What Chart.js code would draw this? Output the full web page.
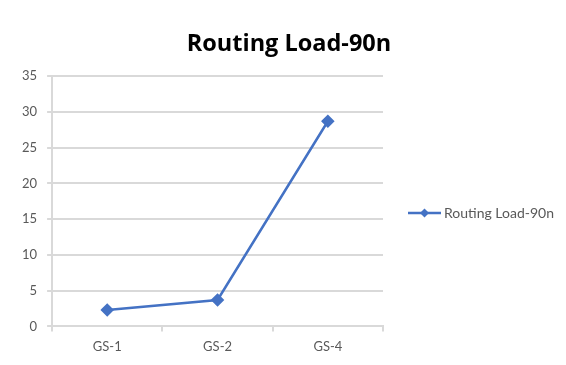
<!DOCTYPE html>
<html>
<head>
<meta charset="utf-8">
<script src="https://cdn.jsdelivr.net/npm/chart.js@4/dist/chart.umd.min.js"></script>
<style>
  html, body { margin: 0; padding: 0; background: #ffffff; }
  #wrap { width: 566px; height: 365px; }
</style>
</head>
<body>
<div id="wrap"><canvas id="chart" width="566" height="365"></canvas></div>
<script>
const categories = ['GS-1', 'GS-2', 'GS-4'];
const routingLoad = [2.3, 3.7, 28.7];
const yTicks = [0, 5, 10, 15, 20, 25, 30, 35];
const seriesName = 'Routing Load-90n';

const lineColor = '#4472c4';
const textColor = '#595959';
const gridColor = '#d9d9d9';
const legendSpace = 183;

// Side legend: a line sample with a diamond, then the series name
const sideLegend = {
  id: 'sideLegend',
  afterDraw(chart) {
    const ctx = chart.ctx;
    const area = chart.chartArea;
    const ds = chart.data.datasets[0];
    const x0 = area.right + 25;
    const y = Math.round((area.top + area.bottom) / 2) + 12;
    ctx.save();
    ctx.strokeStyle = ds.borderColor;
    ctx.lineWidth = 2.5;
    ctx.beginPath(); ctx.moveTo(x0, y); ctx.lineTo(x0 + 33, y); ctx.stroke();
    ctx.fillStyle = ds.borderColor;
    const cx = x0 + 16.5;
    ctx.beginPath();
    ctx.moveTo(cx, y - 4.5); ctx.lineTo(cx + 4.5, y); ctx.lineTo(cx, y + 4.5); ctx.lineTo(cx - 4.5, y);
    ctx.closePath(); ctx.fill();
    ctx.fillStyle = textColor;
    ctx.font = '14px Lato';
    ctx.textAlign = 'left';
    ctx.textBaseline = 'middle';
    ctx.fillText(ds.label, x0 + 36, y);
    ctx.restore();
  }
};

new Chart(document.getElementById('chart'), {
  type: 'line',
  data: {
    labels: categories,
    datasets: [{
      label: seriesName,
      data: routingLoad,
      borderColor: lineColor,
      backgroundColor: lineColor,
      borderWidth: 2.5,
      pointStyle: 'rectRot',
      pointRadius: 5,
      pointHoverRadius: 5,
      tension: 0
    }]
  },
  plugins: [sideLegend],
  options: {
    responsive: false,
    animation: false,
    layout: { padding: { left: 12, right: 0, top: 6, bottom: 2 } },
    plugins: {
      title: {
        display: true,
        text: seriesName,
        color: '#000000',
        font: { family: 'Open Sans', size: 23.5, weight: 'bold' },
        padding: { top: 24, bottom: 18 }
      },
      legend: { display: false },
      tooltip: { enabled: false }
    },
    scales: {
      x: {
        offset: true,
        grid: {
          offset: true,
          drawOnChartArea: false,
          drawTicks: true,
          tickLength: 5,
          color: gridColor,
          lineWidth: 2
        },
        border: { color: gridColor, width: 2 },
        ticks: { color: textColor, font: { family: 'Lato', size: 13 }, padding: 8 }
      },
      y: {
        min: 0,
        max: 35,
        afterBuildTicks: (axis) => { axis.ticks = yTicks.map(v => ({ value: v })); },
        grid: { color: gridColor, lineWidth: 2, tickLength: 5 },
        border: { color: gridColor, width: 2 },
        ticks: { color: textColor, font: { family: 'Lato', size: 13 }, padding: 10 }
      },
      // empty axis on the right that keeps room for the side legend
      legendRoom: {
        type: 'linear',
        position: 'right',
        display: true,
        grid: { display: false },
        border: { display: false },
        ticks: { display: false },
        afterFit: (s) => { s.width = legendSpace; }
      }
    }
  }
});
</script>
</body>
</html>
